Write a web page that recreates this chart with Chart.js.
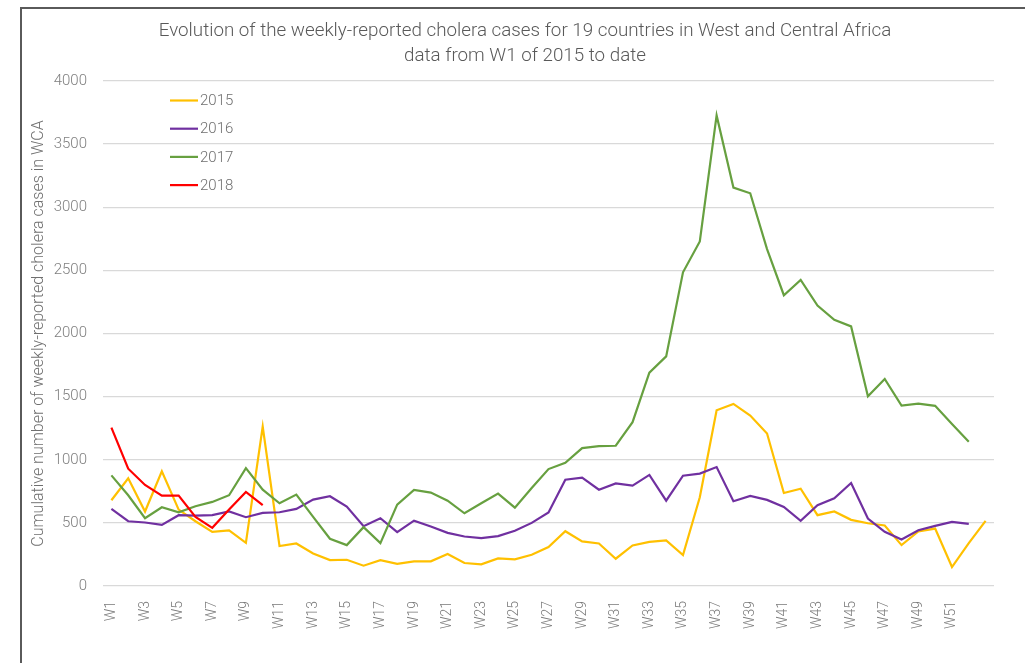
<!DOCTYPE html>
<html>
<head>
<meta charset="utf-8">
<script src="https://cdn.jsdelivr.net/npm/chart.js@4.4.1/dist/chart.umd.min.js"></script>
<style>
  html, body { margin: 0; padding: 0; background: #ffffff; }
  #frame { position: absolute; left: 20px; top: 7px; width: 1010px; height: 660px;
           border-left: 2px solid #5a5a5a; border-top: 2px solid #5a5a5a; }
  #c { position: absolute; left: 0; top: 0; }
</style>
</head>
<body>
<div id="frame"></div>
<canvas id="c" width="1025" height="663"></canvas>
<script>
const titleLines = [
  "Evolution of the weekly-reported cholera cases for 19 countries in West and Central Africa",
  "data from W1 of 2015 to date"
];
const yAxisTitle = "Cumulative number of weekly-reported cholera cases in WCA";

// 52 labelled weeks; 2015 has a 53rd week without a category label
const weeks = ["W1","W2","W3","W4","W5","W6","W7","W8","W9","W10",
  "W11","W12","W13","W14","W15","W16","W17","W18","W19","W20",
  "W21","W22","W23","W24","W25","W26","W27","W28","W29","W30",
  "W31","W32","W33","W34","W35","W36","W37","W38","W39","W40",
  "W41","W42","W43","W44","W45","W46","W47","W48","W49","W50",
  "W51","W52",""];

const seriesNames = ["2015", "2016", "2017", "2018"];

const cases2015 = [679, 853, 590, 908, 605, 513, 429, 440, 342, 1263,
  316, 337, 258, 205, 208, 161, 205, 176, 195, 195,
  253, 182, 171, 218, 211, 247, 308, 434, 353, 337,
  216, 321, 350, 361, 245, 703, 1392, 1442, 1350, 1208,
  737, 771, 561, 590, 524, 497, 479, 324, 432, 455,
  150, 340, 516];

const cases2016 = [611, 513, 503, 484, 561, 558, 561, 590, 545, 579,
  584, 611, 684, 711, 629, 474, 537, 426, 518, 471,
  421, 392, 379, 395, 437, 500, 582, 842, 858, 763,
  813, 795, 880, 676, 874, 890, 942, 671, 713, 682,
  626, 516, 640, 695, 816, 534, 429, 368, 442, 476,
  508, 492];

const cases2017 = [876, 719, 537, 624, 584, 632, 666, 719, 934, 763,
  655, 724, 547, 374, 324, 466, 340, 645, 761, 740,
  676, 576, 655, 732, 621, 776, 926, 976, 1092, 1108,
  1111, 1298, 1690, 1819, 2485, 2729, 3727, 3156, 3111, 2669,
  2303, 2424, 2221, 2108, 2056, 1503, 1640, 1429, 1445, 1427,
  1284, 1142];

const cases2018 = [1255, 929, 800, 716, 716, 547, 461, 605, 745, 640];

const yTickStep = 500;
const yMin = 0;
const yMax = 4000;

const colors = ["#FFC000", "#7030A0", "#67A040", "#FF0000"];
const allSeries = [cases2015, cases2016, cases2017, cases2018];

const FONT = "Roboto, 'Liberation Sans', sans-serif";

const legendPlugin = {
  id: "insideLegend",
  afterDatasetsDraw(chart) {
    const ctx = chart.ctx;
    ctx.save();
    ctx.font = "300 15px " + FONT;
    ctx.textBaseline = "middle";
    ctx.textAlign = "left";
    chart.data.datasets.forEach((ds, i) => {
      const y = 100.5 + i * 28.2;
      ctx.strokeStyle = ds.borderColor;
      ctx.lineWidth = 2.2;
      ctx.beginPath();
      ctx.moveTo(170, y);
      ctx.lineTo(198, y);
      ctx.stroke();
      ctx.fillStyle = "#6f6f6f";
      ctx.fillText(ds.label, 200, y + 1);
    });
    ctx.restore();
  }
};

const datasets = seriesNames.map((name, i) => ({
  label: name,
  data: allSeries[i],
  borderColor: colors[i],
  backgroundColor: colors[i],
  borderWidth: 2.2,
  pointRadius: 0,
  tension: 0,
  fill: false,
  order: 3 - i
}));

new Chart(document.getElementById("c"), {
  type: "line",
  data: { labels: weeks, datasets: datasets },
  plugins: [legendPlugin],
  options: {
    responsive: false,
    animation: false,
    devicePixelRatio: 1,
    layout: { padding: { left: 25, right: 0, top: 8, bottom: 0 } },
    plugins: {
      legend: { display: false },
      tooltip: { enabled: false },
      title: {
        display: true,
        text: titleLines,
        color: "#595959",
        font: { family: FONT, size: 18.8, weight: "300", lineHeight: 1.33 },
        padding: { top: 11, bottom: 12 }
      }
    },
    scales: {
      x: {
        type: "category",
        offset: true,
        grid: { display: false },
        border: { display: false },
        ticks: {
          autoSkip: false,
          maxRotation: 90,
          minRotation: 90,
          padding: 7,
          color: "#7a7a7a",
          font: { family: FONT, size: 14, weight: "300" },
          callback: function (v, i) { return i % 2 === 0 ? this.getLabelForValue(v) : ""; }
        },
        afterFit: (s) => { s.height = 77; }
      },
      y: {
        min: yMin,
        max: yMax,
        border: { display: false },
        grid: { color: "#d9d9d9", lineWidth: 1.3, drawTicks: false },
        ticks: {
          stepSize: yTickStep,
          padding: 16,
          color: "#7f7f7f",
          font: { family: FONT, size: 15, weight: "300" },
          callback: (v) => String(v)
        },
        title: {
          display: true,
          text: yAxisTitle,
          color: "#6f6f6f",
          font: { family: FONT, size: 16, weight: "300" },
          padding: { top: 4, bottom: 0 }
        },
        afterFit: (s) => { s.width = 78; }
      },
      yRightSpace: {
        position: "right",
        display: true,
        min: yMin,
        max: yMax,
        grid: { display: false, drawTicks: false },
        border: { display: false },
        ticks: { display: false },
        afterFit: (s) => { s.width = 31; }
      }
    }
  }
});
</script>
</body>
</html>
